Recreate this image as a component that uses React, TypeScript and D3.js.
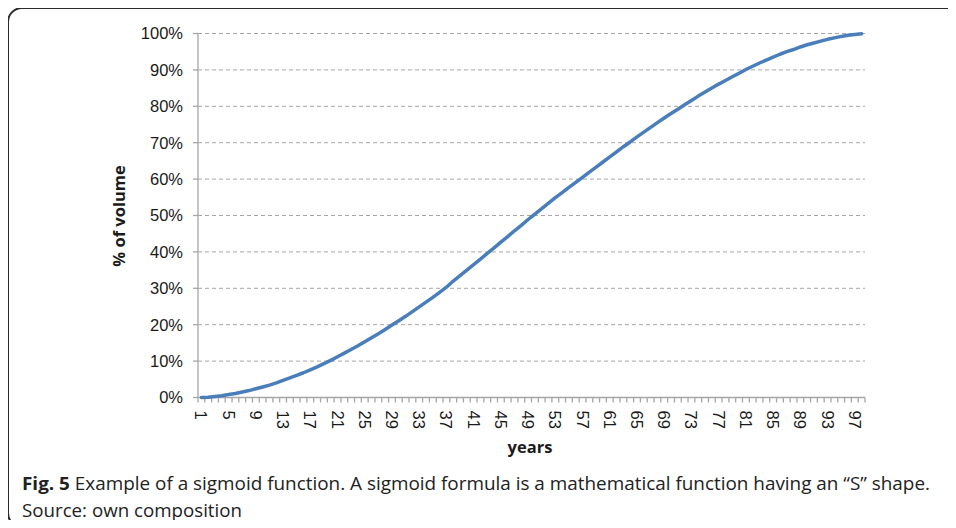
import React from 'react';
import * as d3 from 'd3';

// years 1..98 on the category axis
const years: number[] = Array.from({ length: 98 }, (_, i) => i + 1);

// share of volume (%), one per year
const volume: number[] = [
  0.0, 0.1, 0.3, 0.5, 0.8, 1.1, 1.5, 1.9, 2.4, 2.9,
  3.4, 4.0, 4.7, 5.4, 6.1, 6.8, 7.6, 8.4, 9.3, 10.2,
  11.2, 12.2, 13.2, 14.2, 15.3, 16.4, 17.5, 18.7, 19.9, 21.1,
  22.3, 23.6, 24.9, 26.2, 27.5, 28.9, 30.3, 32.0, 33.5, 35.0,
  36.5, 38.0, 39.6, 41.1, 42.7, 44.2, 45.8, 47.3, 48.9, 50.4,
  51.9, 53.4, 54.9, 56.3, 57.7, 59.1, 60.5, 61.9, 63.3, 64.7,
  66.1, 67.5, 68.9, 70.2, 71.6, 72.9, 74.2, 75.5, 76.8, 78.0,
  79.2, 80.4, 81.6, 82.8, 83.9, 85.0, 86.1, 87.1, 88.1, 89.1,
  90.1, 91.0, 91.9, 92.7, 93.5, 94.3, 95.0, 95.6, 96.3, 96.9,
  97.4, 97.9, 98.4, 98.8, 99.2, 99.5, 99.7, 99.9,
];

const yTicks: number[] = [0, 10, 20, 30, 40, 50, 60, 70, 80, 90, 100];
const xLabelEvery = 4;

const W = 956;
const H = 528;
const plot = { left: 198, right: 865, top: 33.5, bottom: 397.5 };

const chartFont = '"Liberation Sans", Arial, sans-serif';
const captionFont = '"Open Sans", "Noto Sans", sans-serif';

export default function App() {
  const x = d3
    .scaleBand<number>()
    .domain(years)
    .range([plot.left, plot.right])
    .padding(0);
  const y = d3.scaleLinear().domain([0, 100]).range([plot.bottom, plot.top]);

  const line = d3
    .line<number>()
    .x((_, i) => (x(years[i]) as number) + x.bandwidth() / 2)
    .y((d) => y(d));

  const tickXs = years.map((c) => x(c) as number).concat([plot.right]);

  return (
    <div style={{ margin: -8, overflow: 'hidden', width: W, height: H }}>
      <svg width={W} height={H} style={{ display: 'block', background: '#fff' }}>
        {/* frame: open on the right and bottom */}
        <path
          d={`M22,527 A14,14 0 0 1 8,513 V22 A14,14 0 0 1 22,8 H${W}`}
          fill="none"
          stroke="#2b2b2b"
          strokeWidth={2}
        />

        {/* gridlines */}
        {yTicks.slice(1).map((t) => (
          <line
            key={'g' + t}
            x1={plot.left}
            x2={plot.right}
            y1={y(t)}
            y2={y(t)}
            stroke="#a6a6a6"
            strokeWidth={1}
            strokeDasharray="4,3"
          />
        ))}

        {/* y axis */}
        <line x1={plot.left} x2={plot.left} y1={plot.top} y2={plot.bottom} stroke="#a6a6a6" strokeWidth={1.3} />
        {yTicks.map((t) => (
          <g key={'y' + t}>
            <line x1={plot.left - 5} x2={plot.left} y1={y(t)} y2={y(t)} stroke="#a6a6a6" strokeWidth={1.3} />
            <text
              x={183}
              y={y(t)}
              dy="0.36em"
              textAnchor="end"
              fontFamily={chartFont}
              fontSize={16.5}
              fill="#1a1a1a"
            >
              {t}%
            </text>
          </g>
        ))}

        {/* x axis */}
        <line x1={plot.left} x2={plot.right} y1={plot.bottom} y2={plot.bottom} stroke="#a6a6a6" strokeWidth={1.3} />
        {tickXs.map((tx, i) => (
          <line key={'t' + i} x1={tx} x2={tx} y1={plot.bottom} y2={plot.bottom + 5} stroke="#a6a6a6" strokeWidth={1.3} />
        ))}
        {years
          .filter((_, i) => i % xLabelEvery === 0)
          .map((c) => {
            const cx = (x(c) as number) + x.bandwidth() / 2;
            return (
              <text
                key={'x' + c}
                transform={`translate(${cx},${plot.bottom + 13}) rotate(90)`}
                dy="0.36em"
                textAnchor="start"
                fontFamily={chartFont}
                fontSize={16.5}
                fill="#1a1a1a"
              >
                {c}
              </text>
            );
          })}

        {/* series */}
        <path d={line(volume) || ''} fill="none" stroke="#4a7ebb" strokeWidth={3.5} strokeLinejoin="round" strokeLinecap="round" />

        {/* axis titles */}
        <text x={530} y={453} textAnchor="middle" fontFamily={captionFont} fontWeight="bold" fontSize={16.5} fill="#1a1a1a">
          years
        </text>
        <text
          transform="translate(125,216) rotate(-90)"
          textAnchor="middle"
          fontFamily={captionFont}
          fontWeight="bold"
          fontSize={16.5}
          fill="#1a1a1a"
        >
          % of volume
        </text>

        {/* caption */}
        <text x={22} y={490} fontFamily={captionFont} fontSize={18} fill="#222" textLength={908} lengthAdjust="spacingAndGlyphs">
          <tspan fontWeight="bold">Fig. 5</tspan> Example of a sigmoid function. A sigmoid formula is a mathematical function having an “S” shape.
        </text>
        <text x={22} y={517} fontFamily={captionFont} fontSize={18} fill="#222" textLength={220} lengthAdjust="spacingAndGlyphs">
          Source: own composition
        </text>
      </svg>
    </div>
  );
}
